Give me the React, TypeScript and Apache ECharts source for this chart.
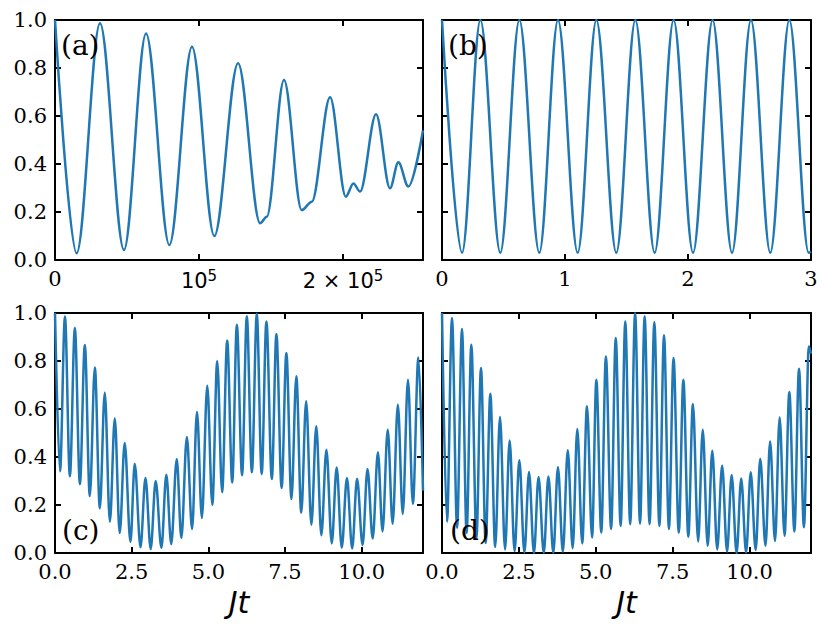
import React, { useEffect, useRef } from 'react';
import * as echarts from 'echarts';

// ---- Panel (a): extrema ----
const aX = [0, 15000, 31250, 47900, 63200, 79400, 95100, 110600, 127100, 142400, 147000, 159000, 171300, 178300, 191000, 201900, 207200, 211800, 222900, 232600, 238400, 245300, 255500];
const aY = [1.0, 0.028, 0.986, 0.042, 0.944, 0.0625, 0.889, 0.1, 0.82, 0.153, 0.18, 0.75, 0.208, 0.243, 0.678, 0.264, 0.319, 0.285, 0.607, 0.299, 0.407, 0.306, 0.54];

// ---- Panel (b) ----
const bX = [0, 0.163, 0.312, 0.474, 0.629, 0.791, 0.943, 1.103, 1.255, 1.417, 1.572, 1.729, 1.883, 2.041, 2.2, 2.358, 2.512, 2.669, 2.824, 2.981, 3.0];
const bY = [1.0, 0.03, 1.0, 0.03, 1.0, 0.03, 1.0, 0.03, 1.0, 0.03, 1.0, 0.03, 1.0, 0.03, 1.0, 0.03, 1.0, 0.03, 1.0, 0.03, 0.035];

// ---- Panel (c) ----
const cX = [0, 0.163, 0.325, 0.485, 0.648, 0.812, 0.973, 1.135, 1.3, 1.462, 1.623, 1.79, 1.95, 2.11, 2.273, 2.46, 2.6, 2.788, 2.95, 3.12, 3.283, 3.47, 3.63, 3.79, 3.97, 4.12, 4.3, 4.47, 4.63, 4.79, 4.965, 5.13, 5.29, 5.45, 5.615, 5.78, 5.93, 6.1, 6.255, 6.42, 6.58, 6.74, 6.894, 7.07, 7.22, 7.39, 7.545, 7.71, 7.87, 8.03, 8.19, 8.36, 8.52, 8.685, 8.85, 9.025, 9.185, 9.35, 9.52, 9.69, 9.85, 10.03, 10.19, 10.36, 10.53, 10.68, 10.85, 11.01, 11.18, 11.34, 11.51, 11.67, 11.85, 12.0];
const cY = [1.0, 0.34, 0.985, 0.32, 0.937, 0.287, 0.867, 0.237, 0.773, 0.186, 0.668, 0.13, 0.56, 0.083, 0.458, 0.046, 0.372, 0.024, 0.313, 0.017, 0.3, 0.021, 0.326, 0.037, 0.392, 0.0625, 0.483, 0.1, 0.588, 0.146, 0.697, 0.201, 0.799, 0.253, 0.885, 0.294, 0.951, 0.324, 0.986, 0.336, 0.997, 0.329, 0.965, 0.308, 0.9125, 0.271, 0.833, 0.225, 0.736, 0.168, 0.632, 0.118, 0.528, 0.074, 0.43, 0.04, 0.356, 0.022, 0.3125, 0.019, 0.309, 0.033, 0.35, 0.06, 0.42, 0.09, 0.514, 0.122, 0.618, 0.163, 0.722, 0.205, 0.815, 0.26];

// ---- Panel (d) ----
const dX = [0, 0.163, 0.325, 0.49, 0.65, 0.8, 0.954, 1.12, 1.268, 1.42, 1.572, 1.73, 1.886, 2.05, 2.2, 2.36, 2.515, 2.68, 2.83, 2.99, 3.14, 3.31, 3.46, 3.62, 3.77, 3.93, 4.09, 4.25, 4.4, 4.56, 4.715, 4.88, 5.02, 5.18, 5.33, 5.5, 5.65, 5.81, 5.96, 6.12, 6.28, 6.44, 6.59, 6.75, 6.905, 7.07, 7.22, 7.38, 7.53, 7.7, 7.85, 8.01, 8.16, 8.33, 8.48, 8.64, 8.79, 8.95, 9.11, 9.27, 9.42, 9.58, 9.73, 9.89, 10.04, 10.2, 10.35, 10.52, 10.67, 10.83, 10.98, 11.14, 11.295, 11.46, 11.61, 11.77, 11.93, 12.0];
const dY = [1.0, 0.13, 0.979, 0.105, 0.933, 0.083, 0.868, 0.062, 0.771, 0.042, 0.664, 0.025, 0.567, 0.015, 0.469, 0.008, 0.386, 0.002, 0.3375, 0.0, 0.317, 0.0, 0.319, 0.0, 0.358, 0.005, 0.428, 0.02, 0.517, 0.04, 0.611, 0.065, 0.722, 0.085, 0.819, 0.1, 0.896, 0.113, 0.965, 0.12, 1.0, 0.122, 0.986, 0.12, 0.961, 0.113, 0.907, 0.1, 0.8125, 0.085, 0.722, 0.068, 0.621, 0.048, 0.514, 0.03, 0.426, 0.015, 0.365, 0.005, 0.325, 0.0, 0.31, 0.002, 0.336, 0.012, 0.393, 0.03, 0.465, 0.05, 0.565, 0.072, 0.671, 0.09, 0.768, 0.107, 0.86, 0.83];

const panelLabels = ['(a)', '(b)', '(c)', '(d)'];
const yTicks = { min: 0, max: 1, interval: 0.2 };
const xAxisName = 'Jt';

const BLUE = '#1f77b4';
const SERIF = 'DejaVu Serif';
const SANS = 'DejaVu Sans';

const zip = (xs: number[], ys: number[]) => xs.map((x, i) => [x, ys[i]]);

export default function App() {
  const ref = useRef<HTMLDivElement>(null);
  useEffect(() => {
    const chart = echarts.init(ref.current!, null, { renderer: 'svg' });
    const grids = [
      { left: 55, top: 20, width: 368, height: 240 },
      { left: 442, top: 20, width: 369, height: 240 },
      { left: 55, top: 313, width: 368, height: 240 },
      { left: 442, top: 313, width: 369, height: 240 },
    ];
    const line = { show: true, onZero: false, lineStyle: { color: '#000', width: 2 } };
    const tick = { show: true, inside: true, length: 6, lineStyle: { color: '#000', width: 2 } };
    const lbl = { fontFamily: SERIF, fontSize: 21, color: '#000' };

    const xRanges = [
      { min: 0, max: 255500, interval: 100000 },
      { min: 0, max: 3, interval: 1 },
      { min: 0, max: 12, interval: 2.5 },
      { min: 0, max: 12, interval: 2.5 },
    ];
    const fmtA = (v: number) =>
      v === 0 ? '{z|0}' : v === 100000 ? '{m|10}{s|5}' : v === 200000 ? '{m|2 × 10}{s|5}' : '';
    const fmtB = (v: number) => (Math.abs(v - Math.round(v)) < 1e-9 ? String(Math.round(v)) : '');
    const fmtC = (v: number) => (Math.abs(v / 2.5 - Math.round(v / 2.5)) < 1e-9 ? v.toFixed(1) : '');
    const fmts = [fmtA, fmtB, fmtC, fmtC];

    const xAxis: any[] = [];
    const yAxis: any[] = [];
    const series: any[] = [];
    const datas = [zip(aX, aY), zip(bX, bY), zip(cX, cY), zip(dX, dY)];
    grids.forEach((_, g) => {
      xAxis.push({
        type: 'value', gridIndex: g, position: 'bottom', ...xRanges[g],
        axisLine: line, axisTick: tick, splitLine: { show: false },
        axisLabel: {
          ...lbl, margin: 8, formatter: fmts[g],
          rich: {
            z: { fontFamily: SERIF, fontSize: 21, color: '#000' },
            m: { fontFamily: SANS, fontSize: 21, lineHeight: 26, color: '#000' },
            s: { fontFamily: SANS, fontSize: 15, lineHeight: 15, verticalAlign: 'top', color: '#000' },
          },
        },
        name: g >= 2 ? xAxisName : '',
        nameLocation: 'middle',
        nameGap: 34,
        nameTextStyle: { fontFamily: SANS, fontStyle: 'italic', fontSize: 30, color: '#000' },
      });
      xAxis.push({
        type: 'value', gridIndex: g, position: 'top', ...xRanges[g],
        axisLine: line, axisTick: tick, splitLine: { show: false }, axisLabel: { show: false },
      });
      yAxis.push({
        type: 'value', gridIndex: g, position: 'left', ...yTicks,
        axisLine: line, axisTick: tick, splitLine: { show: false },
        axisLabel: { show: g % 2 === 0, ...lbl, margin: 8, formatter: (v: number) => v.toFixed(1) },
      });
      yAxis.push({
        type: 'value', gridIndex: g, position: 'right', ...yTicks,
        axisLine: line, axisTick: tick, splitLine: { show: false }, axisLabel: { show: false },
      });
      series.push({
        type: 'line', xAxisIndex: 2 * g, yAxisIndex: 2 * g, data: datas[g],
        showSymbol: false, smooth: 0.34, smoothMonotone: 'x',
        lineStyle: { color: BLUE, width: 2.5 }, clip: true, z: 1,
      });
    });

    const labelPos = [
      { left: 61, top: 31 },
      { left: 448, top: 31 },
      { left: 62, top: 516 },
      { left: 450, top: 516 },
    ];
    const graphic = panelLabels.map((t, i) => ({
      type: 'text', ...labelPos[i], z: 100,
      style: { text: t, fontFamily: SERIF, fontSize: 28, fill: '#000' },
    }));

    chart.setOption({
      animation: false,
      backgroundColor: '#fff',
      grid: grids.map((g) => ({ ...g, containLabel: false })),
      xAxis, yAxis, series, graphic,
    });
    return () => chart.dispose();
  }, []);
  return (
    <div
      ref={ref}
      style={{ position: 'fixed', left: 0, top: 0, width: 830, height: 633, background: '#fff' }}
    />
  );
}
